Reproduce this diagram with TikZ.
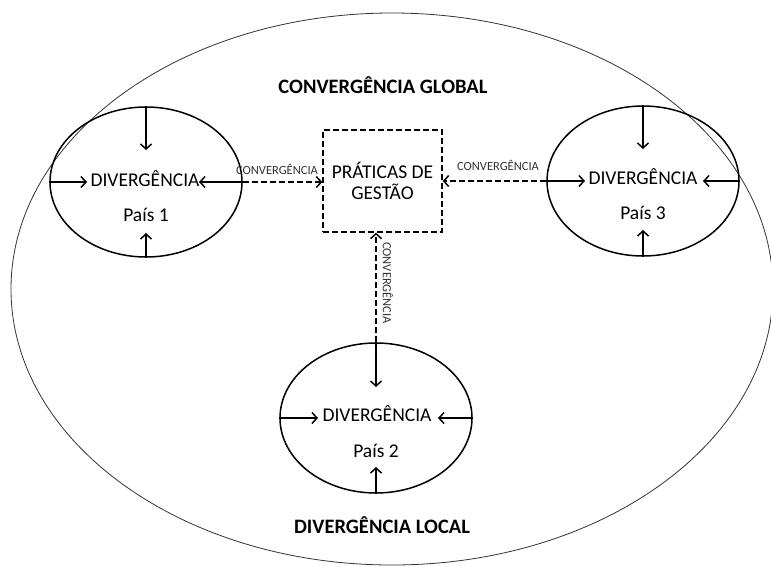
\documentclass[tikz,border=0pt]{standalone}
\usepackage{fontspec}
\setmainfont{Carlito}
\usetikzlibrary{shapes.geometric,arrows.meta}
\tikzset{
  country/.style={draw, ellipse, line width=1.5pt, minimum width=192pt, minimum height=150pt, inner sep=0pt},
  pgbox/.style={draw, line width=1.4pt, dash pattern=on 6pt off 3pt, minimum width=119pt, minimum height=102pt, inner sep=0pt, align=center, font=\fontsize{19.5}{21}\selectfont},
  inarr/.style={line width=1.5pt, -{Straight Barb[length=5pt,width=11pt,line width=1.5pt]}},
  dasharr/.style={line width=1.7pt, dash pattern=on 6pt off 3pt, -{Straight Barb[length=5pt,width=11pt,line width=1.5pt]}},
  bigtxt/.style={font=\fontsize{19.5}{22}\selectfont, inner sep=0pt},
  smalltxt/.style={font=\fontsize{12.5}{14}\selectfont, inner sep=0pt, text=black!80},
  titletxt/.style={font=\bfseries\fontsize{20.5}{24}\selectfont, inner sep=0pt}
}
\begin{document}
\begin{tikzpicture}[x=1pt,y=-1pt]
\useasboundingbox (0,0) rectangle (771,566);
% big ellipse
\draw[line width=0.8pt, black!80] (392,289) ellipse [x radius=381, y radius=276];
\node[titletxt] (tg) at (383,85) {CONVERGÊNCIA GLOBAL};
\node[titletxt] (tl) at (382,525) {DIVERGÊNCIA LOCAL};
% country ellipses
\node[country] (e1) at (146,182) {};
\node[country] (e3) at (643,181) {};
\node[country] (e2) at (376,418) {};
\node[bigtxt] (d1) at (145,179) {DIVERGÊNCIA};
\node[bigtxt] (p1) at (146,215) {País 1};
\node[bigtxt] (d3) at (643,177) {DIVERGÊNCIA};
\node[bigtxt] (p3) at (643,213) {País 3};
\node[bigtxt] (d2) at (377,414) {DIVERGÊNCIA};
\node[bigtxt] (p2) at (376,451) {País 2};
% box
\node[pgbox] (pg) at (382.5,181) {PRÁTICAS DE\\GESTÃO};
% inner arrow endpoints
\coordinate (e1t) at (146,150);
\coordinate (e1l) at (87,182);
\coordinate (e1r) at (199,182);
\coordinate (e1b) at (146,233);
\coordinate (e3t) at (643,149);
\coordinate (e3l) at (585,181);
\coordinate (e3r) at (703,181);
\coordinate (e3b) at (643,230);
\coordinate (e2t) at (376,387);
\coordinate (e2l) at (318,418);
\coordinate (e2r) at (438,418);
\coordinate (e2b) at (376,467);
\draw[inarr] (e1.north) -- (e1t);
\draw[inarr] (e1.west) -- (e1l);
\draw[inarr] (e1.east) -- (e1r);
\draw[inarr] (e1.south) -- (e1b);
\draw[inarr] (e3.north) -- (e3t);
\draw[inarr] (e3.west) -- (e3l);
\draw[inarr] (e3.east) -- (e3r);
\draw[inarr] (e3.south) -- (e3b);
\draw[inarr] (e2.north) -- (e2t);
\draw[inarr] (e2.west) -- (e2l);
\draw[inarr] (e2.east) -- (e2r);
\draw[inarr] (e2.south) -- (e2b);
% dashed convergence arrows
\draw[dasharr] (e1.east) -- (e1.east -| pg.west);
\draw[dasharr] (e3.west) -- (e3.west -| pg.east);
\draw[dasharr] (e2.north) -- (e2.north |- pg.south);
\node[smalltxt] (c1) at (277,169) {CONVERGÊNCIA};
\node[smalltxt] (c3) at (498,165) {CONVERGÊNCIA};
\node[smalltxt, rotate=-90] (c2) at (388,283) {CONVERGÊNCIA};
\end{tikzpicture}
\end{document}
